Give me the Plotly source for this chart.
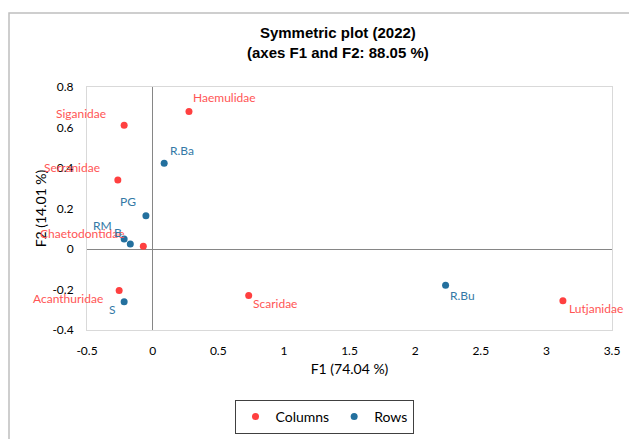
import plotly.graph_objects as go

# ---- data ----
col_names = ["Haemulidae", "Siganidae", "Serranidae", "Chaetodontidae",
             "Acanthuridae", "Scaridae", "Lutjanidae"]
col_f1 = [0.277, -0.217, -0.265, -0.071, -0.255, 0.732, 3.126]
col_f2 = [0.679, 0.611, 0.341, 0.013, -0.205, -0.230, -0.256]

row_names = ["R.Ba", "PG", "RM", "B", "S", "R.Bu"]
row_f1 = [0.088, -0.051, -0.217, -0.170, -0.217, 2.232]
row_f2 = [0.423, 0.164, 0.049, 0.025, -0.261, -0.179]

x_ticks = [-0.5, 0, 0.5, 1, 1.5, 2, 2.5, 3, 3.5]
x_tick_text = ["-0.5", "0", "0.5", "1", "1.5", "2", "2.5", "3", "3.5"]
y_ticks = [-0.4, -0.2, 0, 0.2, 0.4, 0.6, 0.8]
y_tick_text = ["-0.4", "-0.2", "0", "0.2", "0.4", "0.6", "0.8"]

# ---- styles ----
RED = "#FF4040"
RED_TXT = "#FF5555"
BLUE = "#23709E"
BLUE_TXT = "#3479A6"
FONT = "Lato"

# label placement (anchor, xshift, yshift) -- style only
col_lab = {
    "Haemulidae": ("left", 2, 14),
    "Siganidae": ("right", -16, 12),
    "Serranidae": ("right", -16, 12),
    "Chaetodontidae": ("right", -16, 13),
    "Acanthuridae": ("right", -14, -8),
    "Scaridae": ("left", 2, -8),
    "Lutjanidae": ("left", 4, -8),
}
row_lab = {
    "R.Ba": ("left", 4, 13),
    "PG": ("right", -8, 14),
    "RM": ("right", -10, 14),
    "B": ("right", -6, 11),
    "S": ("right", -6, -8),
    "R.Bu": ("left", 2, -10),
}

fig = go.Figure()
fig.add_trace(go.Scatter(x=col_f1, y=col_f2, mode="markers", name="Columns",
                         marker=dict(color=RED, size=7), hoverinfo="text",
                         text=col_names))
fig.add_trace(go.Scatter(x=row_f1, y=row_f2, mode="markers", name="Rows",
                         marker=dict(color=BLUE, size=7), hoverinfo="text",
                         text=row_names))

W, H = 629, 439
L, R, T, B = 87, 17, 87, 109
pw, ph = W - L - R, H - T - B

def px_x(p):
    return (p - L) / pw

def px_y(p):
    return (H - B - p) / ph

annots = []
for n, x, y in zip(col_names, col_f1, col_f2):
    a, dx, dy = col_lab[n]
    annots.append(dict(x=x, y=y, text=n, showarrow=False, xanchor=a,
                       yanchor="middle", xshift=dx, yshift=dy,
                       font=dict(family=FONT, size=12, color=RED_TXT)))
for n, x, y in zip(row_names, row_f1, row_f2):
    a, dx, dy = row_lab[n]
    annots.append(dict(x=x, y=y, text=n, showarrow=False, xanchor=a,
                       yanchor="middle", xshift=dx, yshift=dy,
                       font=dict(family=FONT, size=12, color=BLUE_TXT)))

# title as annotation
annots.append(dict(text="<b>Symmetric plot (2022)<br>(axes F1 and F2: 88.05 %)</b>",
                    xref="paper", yref="paper", x=px_x(338), y=px_y(22),
                    xanchor="center", yanchor="top", showarrow=False,
                    font=dict(family="Liberation Sans", size=15, color="#000000")))

fig.update_layout(
    width=W, height=H,
    margin=dict(l=L, r=R, t=T, b=B, autoexpand=False),
    paper_bgcolor="white", plot_bgcolor="white",
    annotations=annots,
    xaxis=dict(range=[-0.5, 3.5], tickvals=x_ticks, ticktext=x_tick_text,
               showgrid=False, zeroline=True, zerolinecolor="#868686",
               zerolinewidth=1, showline=True, linecolor="#D9D9D9",
               linewidth=1, mirror=True, ticks="", ticklabelstandoff=10,
               automargin=False,
               tickfont=dict(family=FONT, size=12, color="#000000"),
               title=dict(text="F1 (74.04 %)", standoff=6,
                          font=dict(family=FONT, size=14, color="#000000"))),
    yaxis=dict(range=[-0.4, 0.8], tickvals=y_ticks, ticktext=y_tick_text,
               showgrid=False, zeroline=True, zerolinecolor="#868686",
               zerolinewidth=1, showline=True, linecolor="#D9D9D9",
               linewidth=1, mirror=True, ticks="", ticklabelstandoff=10,
               automargin=False,
               tickfont=dict(family=FONT, size=12, color="#000000"),
               title=dict(text="F2 (14.01 %)", standoff=2,
                          font=dict(family=FONT, size=14, color="#000000"))),
    legend=dict(orientation="h", x=px_x(324), xanchor="center",
                y=px_y(417), yanchor="middle",
                bordercolor="#404040", borderwidth=1,
                font=dict(family=FONT, size=14, color="#000000")),
    shapes=[dict(type="rect", xref="paper", yref="paper",
                 x0=px_x(9), x1=px_x(700), y0=px_y(500), y1=px_y(13),
                 line=dict(color="#BFBFBF", width=1.5), layer="below")],
)

fig.write_html("out.html", config={"displayModeBar": False},
               post_script="document.body.style.margin='0';document.body.style.overflow='hidden';")
